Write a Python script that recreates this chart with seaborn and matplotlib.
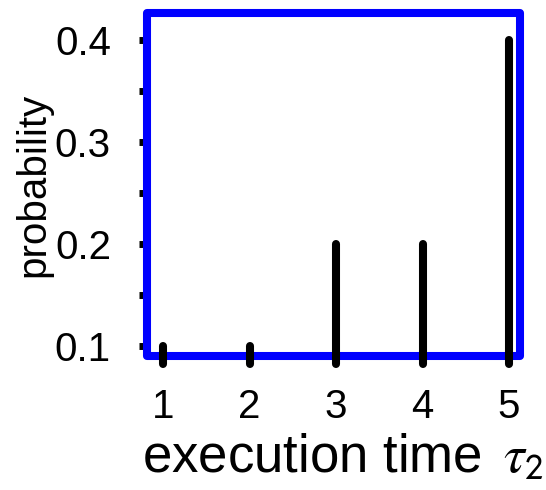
import matplotlib
matplotlib.use("Agg")
import matplotlib.pyplot as plt
import matplotlib.patches as mpatches
import numpy as np
import pandas as pd
import seaborn as sns

# data
exec_times = [1, 2, 3, 4, 5]
probabilities = [0.1, 0.1, 0.2, 0.2, 0.4]
y_major_ticks = [0.1, 0.2, 0.3, 0.4]
y_minor_ticks = [0.15, 0.25, 0.35]
x_tick_labels = ["1", "2", "3", "4", "5"]
stem_base = 0.082

sns.set_theme(style="white")
plt.rcParams["font.family"] = ["Liberation Sans", "DejaVu Sans"]
plt.rcParams["mathtext.fontset"] = "stix"

fig = plt.figure(figsize=(5.46, 4.90), dpi=100)
ax = fig.add_axes([147 / 546, 1 - 356 / 490, 373 / 546, 343 / 490])

rows = []
for t, p in zip(exec_times, probabilities):
    rows.append({"time": t, "prob": stem_base, "id": t})
    rows.append({"time": t, "prob": p, "id": t})
df = pd.DataFrame(rows)

sns.lineplot(data=df, x="time", y="prob", units="id", estimator=None,
             color="black", lw=5.8, solid_capstyle="round", clip_on=False,
             zorder=5, ax=ax, legend=False)

ax.set_xlim(0.815, 5.127)
ax.set_ylim(0.0902, 0.4265)

for s in ax.spines.values():
    s.set_visible(False)
frame = mpatches.Rectangle((0, 0), 1, 1, transform=ax.transAxes, fill=False,
                           edgecolor="#0000ff", lw=5.8, joinstyle="round",
                           clip_on=False, zorder=4)
ax.add_patch(frame)

ax.set_xticks(exec_times)
ax.set_xticklabels(x_tick_labels)
ax.set_yticks(y_major_ticks)
ax.set_yticklabels([f"{v:.1f}" for v in y_major_ticks])
ax.set_yticks(y_minor_ticks, minor=True)

ax.tick_params(axis="x", length=0, pad=23, labelsize=29, colors="black")
ax.tick_params(axis="y", which="both", left=True, length=6, width=5,
               color="black", pad=20, labelsize=29, labelcolor="black")
ax.tick_params(axis="y", which="minor", labelleft=False)

ax.set_xlabel(r"execution time $\,\tau_\mathsf{2}$", fontsize=38, color="black")
ax.set_ylabel("probability", fontsize=29, color="black")
ax.xaxis.set_label_coords(0.525, -0.225)
ax.yaxis.set_label_coords(-0.255, 0.5)
ax.grid(False)

fig.savefig("out.png", dpi=100)
